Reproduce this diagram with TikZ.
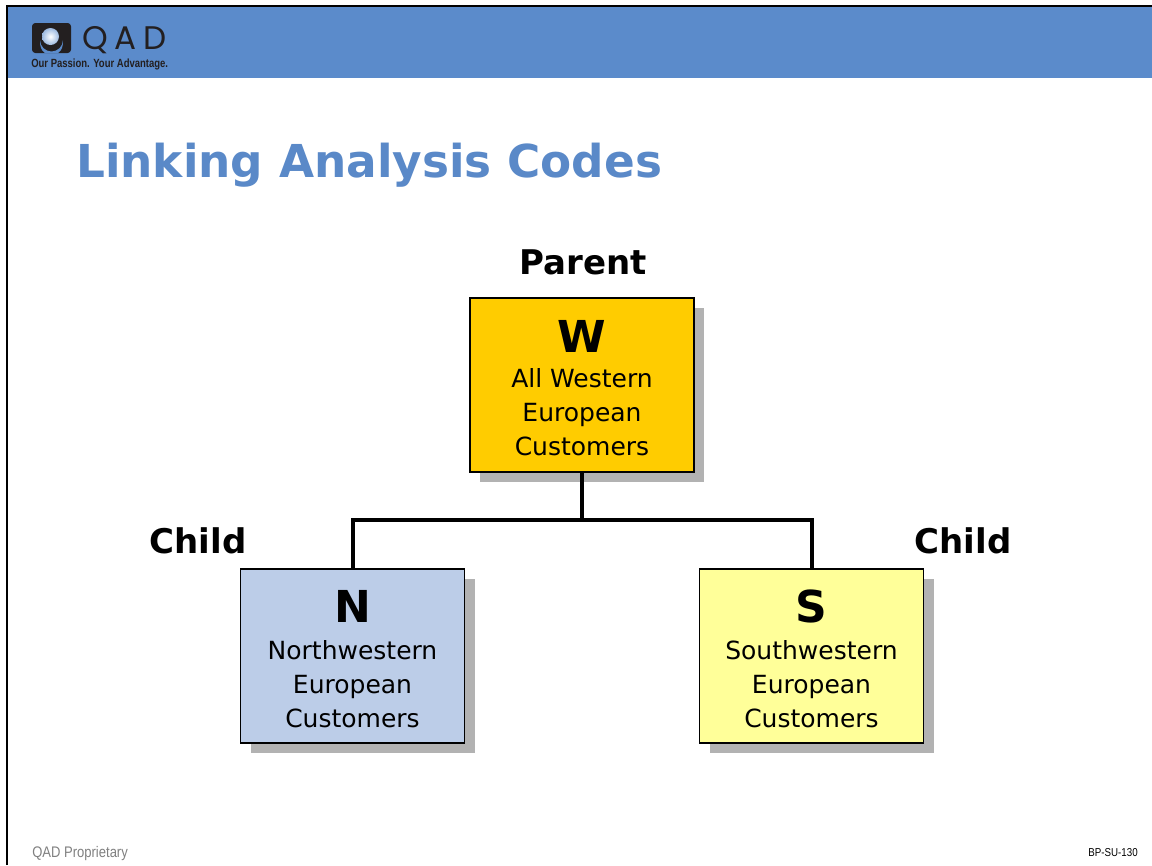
\documentclass[tikz,border=0pt]{standalone}
\usepackage{fontspec}
\setmainfont{DejaVu Sans}
\newfontfamily\footfont[FakeStretch=0.85]{Liberation Sans}
\newfontfamily\tagfont[FakeStretch=0.8]{Liberation Sans}
\newfontfamily\logofont[LetterSpace=20]{Poppins}
\usetikzlibrary{shadows}
\definecolor{bandblue}{HTML}{5B8BCB}
\definecolor{titleblue}{HTML}{5A89C8}
\definecolor{wyellow}{HTML}{FFCC00}
\definecolor{nblue}{HTML}{BCCDE8}
\definecolor{syellow}{HTML}{FFFF99}
\definecolor{shadowgray}{HTML}{B2B2B2}
\definecolor{logoblack}{HTML}{231F20}
\tikzset{
  codebox/.style={draw=black, line width=1.1pt, minimum width=168pt, minimum height=130.5pt,
    inner sep=0pt, drop shadow={shadow xshift=7.5pt, shadow yshift=-7.5pt, fill=shadowgray, opacity=1}},
  bigletter/.style={font=\bfseries\fontsize{33}{33}\selectfont, inner sep=0pt},
  boxtext/.style={font=\fontsize{18.75}{25.5}\selectfont, align=center, inner sep=0pt},
  rolelabel/.style={font=\bfseries\fontsize{25.5}{25.5}\selectfont, inner sep=0pt},
  link/.style={line width=3pt, line cap=rect}
}
\begin{document}
\begin{tikzpicture}[x=0.75pt, y=-0.75pt]
\useasboundingbox (0,0) rectangle (1152,865);
\fill[white] (0,0) rectangle (1152,865);
% header band and frame
\fill[bandblue] (7,6) rectangle (1152,78);
\draw[line width=1.5pt] (7,865) -- (7,6) -- (1152,6);
% logo icon
\fill[logoblack, rounded corners=2.5pt] (32,23) rectangle (71,53);
\fill[bandblue] (45,53.2) .. controls (41,50) and (40,47) .. (40,40) arc[start angle=180, end angle=0, radius=11.5] .. controls (63,47) and (62,50) .. (58,53.2) -- cycle;
\shade[inner color=white, outer color=bandblue!60!white] (50.5,36.5) circle[radius=8.5];
\node[anchor=base west, inner sep=0pt, text depth=0pt, text=logoblack, font=\logofont\fontsize{24.5}{24.5}\selectfont] (qad) at (82,49) {QAD};
\node[anchor=base west, inner sep=0pt, text=logoblack, font=\tagfont\bfseries\fontsize{8.9}{8.9}\selectfont] (tag) at (31,67) {Our Passion. Your Advantage.};
% title
\node[anchor=base west, inner sep=0pt, text=titleblue, font=\bfseries\fontsize{34}{34}\selectfont] (title) at (76,177) {Linking Analysis Codes};
% role labels
\node[rolelabel] (parent) at (583,262) {Parent};
\node[rolelabel] (childl) at (198,541) {Child};
\node[rolelabel] (childr) at (963,541) {Child};
% boxes
\node[codebox, fill=wyellow] (W) at (582,385) {};
\node[codebox, fill=nblue] (N) at (352.5,656) {};
\node[codebox, fill=syellow] (S) at (811.5,656) {};
% box texts
\node[bigletter] (wl) at (582,336) {W};
\node[boxtext] (wt) at (582,412) {All Western\\European\\Customers};
\node[bigletter] (nl) at (352.5,606) {N};
\node[boxtext] (nt) at (352.5,684) {Northwestern\\European\\Customers};
\node[bigletter] (sl) at (811.5,606) {S};
\node[boxtext] (st) at (811.5,684) {Southwestern\\European\\Customers};
% connectors
\draw[link] (W.south) -- (W.south |- 0,520) coordinate (j);
\draw[link] (N.north) -- (N.north |- j) -- (S.north |- j) -- (S.north);
% footer
\node[anchor=west, inner sep=0pt, text=black!50, font=\footfont\fontsize{11.5}{11.5}\selectfont] (prop) at (32,854) {QAD Proprietary};
\node[anchor=east, inner sep=0pt, text=black, font=\footfont\fontsize{8.6}{8.6}\selectfont] (code) at (1138,853) {BP-SU-130};
\end{tikzpicture}
\end{document}
